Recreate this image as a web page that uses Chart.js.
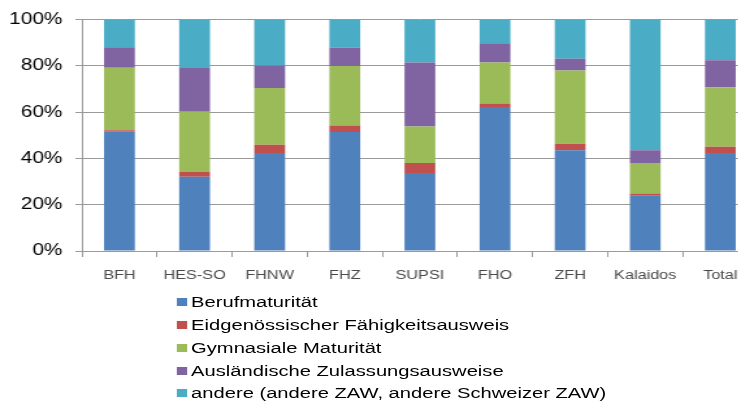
<!DOCTYPE html>
<html><head><meta charset="utf-8">
<script src="https://cdn.jsdelivr.net/npm/chart.js@4"></script>
<style>
html,body{margin:0;padding:0;background:#fff;overflow:hidden;width:738px;height:403px;}
#wrap{position:absolute;left:0;top:0;width:585px;height:403px;transform:scaleX(1.3);transform-origin:0 0;}
#cv{display:block;}
#legend{position:absolute;left:136px;top:291px;font-family:"Liberation Sans",Arial,sans-serif;font-size:15.5px;color:#000;}
.row{height:22.75px;white-space:nowrap;display:flex;align-items:center;}
.sw{width:8px;height:8px;margin-right:3px;flex:none;}
</style></head><body>
<div id="wrap"><canvas id="cv" width="585" height="290"></canvas><div id="legend"></div></div>
<script>
const categories = ["BFH","HES-SO","FHNW","FHZ","SUPSI","FHO","ZFH","Kalaidos","Total"];
const berufmaturitaet     = [51.7, 32.1, 42.4, 51.4, 33.7, 62.2, 43.5, 23.9, 42.4];
const eidgFaehigkeit      = [ 0.5,  2.0,  3.5,  2.8,  4.3,  1.5,  2.9,  0.9,  2.6];
const gymnasialeMaturitaet= [27.0, 26.1, 24.5, 25.7, 15.8, 17.8, 31.6, 13.2, 25.8];
const auslaendische       = [ 8.8, 18.9,  9.8,  8.0, 27.7,  8.3,  5.1,  5.5, 11.6];
const andere              = [12.0, 20.9, 19.8, 12.1, 18.5, 10.2, 16.9, 56.5, 17.6];
const seriesNames = ["Berufmaturität","Eidgenössischer Fähigkeitsausweis","Gymnasiale Maturität","Ausländische Zulassungsausweise","andere (andere ZAW, andere Schweizer ZAW)"];
const yTickValues = [0,20,40,60,80,100];

const seriesData = [berufmaturitaet, eidgFaehigkeit, gymnasialeMaturitaet, auslaendische, andere];
const colors = ["#4F81BD","#C0504D","#9BBB59","#8064A2","#4BACC6"];
const gridColor = "#9a9a9a";

const chart = new Chart(document.getElementById("cv"), {
  type: "bar",
  data: {
    labels: categories,
    datasets: seriesData.map((d, i) => ({
      label: seriesNames[i],
      data: d,
      backgroundColor: colors[i],
      borderWidth: 0,
      barPercentage: 0.41,
      categoryPercentage: 1.0
    }))
  },
  options: {
    responsive: false,
    animation: false,
    layout: { padding: { left: 0, right: 2, top: 17, bottom: 0 } },
    plugins: { legend: { display: false }, tooltip: { enabled: false } },
    scales: {
      x: {
        stacked: true,
        afterFit: s => { s.height = 39; },
        grid: { display: true, drawOnChartArea: false, drawTicks: true, tickLength: 6, color: gridColor, offset: true },
        border: { display: true, color: gridColor },
        ticks: { color: "#4a4a4a", padding: 11, maxRotation: 0, autoSkip: false,
                 font: { family: "'Liberation Sans', Arial, sans-serif", size: 12.5 } }
      },
      y: {
        stacked: true,
        min: 0, max: 100,
        afterFit: s => { s.width = 63; },
        afterBuildTicks: s => { s.ticks = yTickValues.map(v => ({ value: v })); },
        grid: { color: gridColor, drawTicks: true, tickLength: 5 },
        border: { display: true, color: gridColor },
        ticks: { color: "#000", padding: 10, callback: v => v + "%",
                 font: { family: "'Liberation Sans', Arial, sans-serif", size: 16 } }
      }
    }
  }
});

const leg = document.getElementById("legend");
chart.data.datasets.forEach(ds => {
  const row = document.createElement("div");
  row.className = "row";
  const sw = document.createElement("span");
  sw.className = "sw";
  sw.style.background = ds.backgroundColor;
  const tx = document.createElement("span");
  tx.textContent = ds.label;
  row.appendChild(sw); row.appendChild(tx);
  leg.appendChild(row);
});
</script>
</body></html>
